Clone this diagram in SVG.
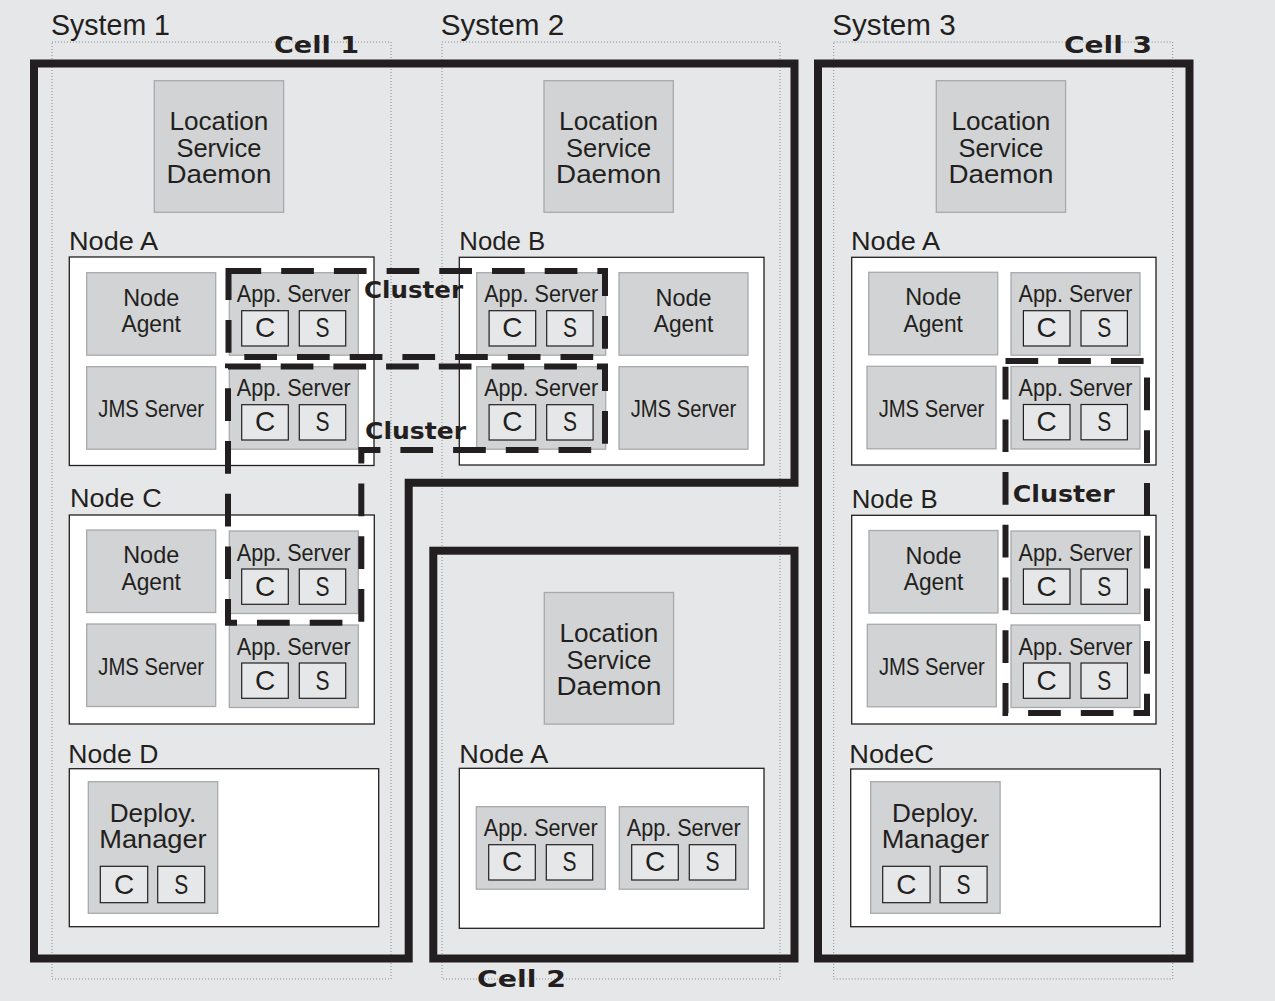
<svg xmlns="http://www.w3.org/2000/svg" width="1275" height="1001" viewBox="0 0 1275 1001">
<style>
.t{font-family:"Liberation Sans",Arial,sans-serif;fill:#231f20}
.b{font-family:"DejaVu Sans","Liberation Sans",sans-serif;font-weight:bold;fill:#231f20}
.sys{fill:none;stroke:#8a8c8f;stroke-width:1;stroke-dasharray:1 2}
.cell{fill:none;stroke:#231f20;stroke-width:8}
.node{fill:#fff;stroke:#231f20;stroke-width:1.3}
.comp{fill:#d1d3d4;stroke:#a7a9ac;stroke-width:1.3}
.cs{fill:#e6e7e8;stroke:#231f20;stroke-width:1.2}
.clu{fill:none;stroke:#231f20;stroke-width:6;stroke-dasharray:32.7 20}
.m{text-anchor:middle}
</style>
<defs>
<g id="app">
<rect class="comp" x="0" y="0" width="129" height="82.5"/>
<text class="t m" x="64.5" y="29.6" font-size="24" textLength="114" lengthAdjust="spacingAndGlyphs">App. Server</text>
<rect class="cs" x="12.4" y="38" width="46.6" height="35.3"/>
<rect class="cs" x="70" y="38" width="46.4" height="35.3"/>
<text class="t m" x="35.7" y="64.7" font-size="28">C</text>
<text class="t m" x="93.2" y="64.7" font-size="28" textLength="14" lengthAdjust="spacingAndGlyphs">S</text>
</g>
<g id="agent">
<rect class="comp" x="0" y="0" width="129" height="82.5"/>
<text class="t m" x="64.5" y="33" font-size="24" textLength="56" lengthAdjust="spacingAndGlyphs">Node</text>
<text class="t m" x="64.5" y="59.5" font-size="24" textLength="59.5" lengthAdjust="spacingAndGlyphs">Agent</text>
</g>
<g id="jms">
<rect class="comp" x="0" y="0" width="129" height="82.5"/>
<text class="t m" x="64.5" y="50.5" font-size="24" textLength="105.7" lengthAdjust="spacingAndGlyphs">JMS Server</text>
</g>
<g id="lsd">
<rect class="comp" x="0" y="0" width="129.3" height="131.6"/>
<text class="t m" x="64.6" y="49.3" font-size="25" textLength="99" lengthAdjust="spacingAndGlyphs">Location</text>
<text class="t m" x="64.6" y="76" font-size="25" textLength="85" lengthAdjust="spacingAndGlyphs">Service</text>
<text class="t m" x="64.6" y="102.3" font-size="25" textLength="105" lengthAdjust="spacingAndGlyphs">Daemon</text>
</g>
<g id="dm">
<rect class="comp" x="0" y="0" width="129.4" height="131.6"/>
<text class="t m" x="64.7" y="40" font-size="25" textLength="86.7" lengthAdjust="spacingAndGlyphs">Deploy.</text>
<text class="t m" x="64.7" y="66.6" font-size="25" textLength="107.4" lengthAdjust="spacingAndGlyphs">Manager</text>
<rect class="cs" x="12" y="84.6" width="47.4" height="36.4"/>
<rect class="cs" x="69.4" y="84.6" width="47" height="36.4"/>
<text class="t m" x="35.7" y="112" font-size="28">C</text>
<text class="t m" x="92.9" y="112" font-size="28" textLength="14" lengthAdjust="spacingAndGlyphs">S</text>
</g>
</defs>
<rect x="0" y="0" width="1275" height="1001" fill="#e6e7e8"/>

<g id="systems">
<rect class="sys" x="52" y="42" width="339" height="937"/>
<rect class="sys" x="442" y="42" width="338" height="937"/>
<rect class="sys" x="833.7" y="42" width="339" height="937"/>
<text class="t" x="51" y="35" font-size="29" textLength="119" lengthAdjust="spacingAndGlyphs">System 1</text>
<text class="t" x="440.7" y="35" font-size="29" textLength="123.6" lengthAdjust="spacingAndGlyphs">System 2</text>
<text class="t" x="832.3" y="35" font-size="29" textLength="123.4" lengthAdjust="spacingAndGlyphs">System 3</text>
</g>

<g id="cells">
<path class="cell" d="M34 63.5 H794.5 V482.7 H408.7 V958.5 H34 Z"/>
<rect class="cell" x="433.3" y="550.7" width="361.2" height="407.8"/>
<rect class="cell" x="818" y="63.5" width="371.5" height="895"/>
<text class="b" x="274" y="53" font-size="23" textLength="85" lengthAdjust="spacingAndGlyphs">Cell 1</text>
<text class="b" x="477" y="987" font-size="23" textLength="89" lengthAdjust="spacingAndGlyphs">Cell 2</text>
<text class="b" x="1064" y="53" font-size="23" textLength="88" lengthAdjust="spacingAndGlyphs">Cell 3</text>
</g>

<g id="lsd-s1"><use href="#lsd" x="154.3" y="80.7"/></g>
<g id="lsd-s2"><use href="#lsd" x="544" y="80.7"/></g>
<g id="lsd-s3"><use href="#lsd" x="936.3" y="80.7"/></g>
<g id="lsd-c2"><use href="#lsd" x="544.3" y="592.5"/></g>

<g id="s1-nodeA">
<text class="t" x="69" y="250" font-size="26" textLength="89" lengthAdjust="spacingAndGlyphs">Node A</text>
<rect class="node" x="69.3" y="257" width="304.7" height="208.5"/>
<use href="#agent" x="86.7" y="272.7"/>
<use href="#jms" x="86.7" y="366.7"/>
<use href="#app" x="229.3" y="272.7"/>
<use href="#app" x="229.3" y="366.7"/>
</g>

<g id="s2-nodeB">
<text class="t" x="459.3" y="250" font-size="26" textLength="86" lengthAdjust="spacingAndGlyphs">Node B</text>
<rect class="node" x="459.3" y="257.3" width="304.7" height="207.7"/>
<use href="#app" x="476.7" y="272.7"/>
<use href="#app" x="476.7" y="366.7"/>
<use href="#agent" x="619" y="272.7"/>
<use href="#jms" x="619" y="366.7"/>
</g>

<g id="s3-nodeA">
<text class="t" x="851" y="250" font-size="26" textLength="89" lengthAdjust="spacingAndGlyphs">Node A</text>
<rect class="node" x="851.7" y="257.3" width="304.3" height="207.7"/>
<use href="#agent" x="868.7" y="272.3"/>
<use href="#jms" x="867" y="366.3"/>
<use href="#app" x="1011" y="272.7"/>
<use href="#app" x="1011" y="366.5"/>
</g>

<g id="s1-nodeC">
<text class="t" x="70" y="507" font-size="26" textLength="91.7" lengthAdjust="spacingAndGlyphs">Node C</text>
<rect class="node" x="69.3" y="515" width="305" height="209"/>
<use href="#agent" x="86.7" y="530"/>
<use href="#jms" x="86.7" y="624"/>
<use href="#app" x="229.3" y="531"/>
<use href="#app" x="229.3" y="625"/>
</g>

<g id="s3-nodeB">
<text class="t" x="851.7" y="508.3" font-size="26" textLength="86" lengthAdjust="spacingAndGlyphs">Node B</text>
<rect class="node" x="851.7" y="515.3" width="304.3" height="208.7"/>
<use href="#agent" x="869" y="530.5"/>
<use href="#jms" x="867.3" y="624.3"/>
<use href="#app" x="1011" y="531"/>
<use href="#app" x="1011" y="625"/>
</g>

<g id="s1-nodeD">
<text class="t" x="68.3" y="762.7" font-size="26" textLength="90" lengthAdjust="spacingAndGlyphs">Node D</text>
<rect class="node" x="69.3" y="768.7" width="309.4" height="158"/>
<use href="#dm" x="88.3" y="781.7"/>
</g>

<g id="c2-nodeA">
<text class="t" x="459.3" y="762.7" font-size="26" textLength="89" lengthAdjust="spacingAndGlyphs">Node A</text>
<rect class="node" x="459.3" y="768.3" width="304.7" height="160"/>
<use href="#app" x="476.3" y="806.7"/>
<use href="#app" x="619.3" y="806.7"/>
</g>

<g id="s3-nodeC">
<text class="t" x="849.3" y="762.7" font-size="26" textLength="84.7" lengthAdjust="spacingAndGlyphs">NodeC</text>
<rect class="node" x="850.7" y="769" width="309.6" height="157.7"/>
<use href="#dm" x="870.7" y="781.7"/>
</g>

<g id="clusters">
<rect class="clu" x="228.5" y="271" width="376.5" height="86"/>
<path class="clu" d="M228 366.5 H605 V450 H361.3 V622.8 H228 Z"/>
<rect class="clu" x="1005.5" y="361" width="141.5" height="352"/>
<text class="b" x="364" y="298.3" font-size="23" textLength="99" lengthAdjust="spacingAndGlyphs">Cluster</text>
<text class="b" x="365" y="439.3" font-size="23" textLength="101" lengthAdjust="spacingAndGlyphs">Cluster</text>
<text class="b" x="1012.7" y="501.7" font-size="23" textLength="102" lengthAdjust="spacingAndGlyphs">Cluster</text>
</g>
</svg>
